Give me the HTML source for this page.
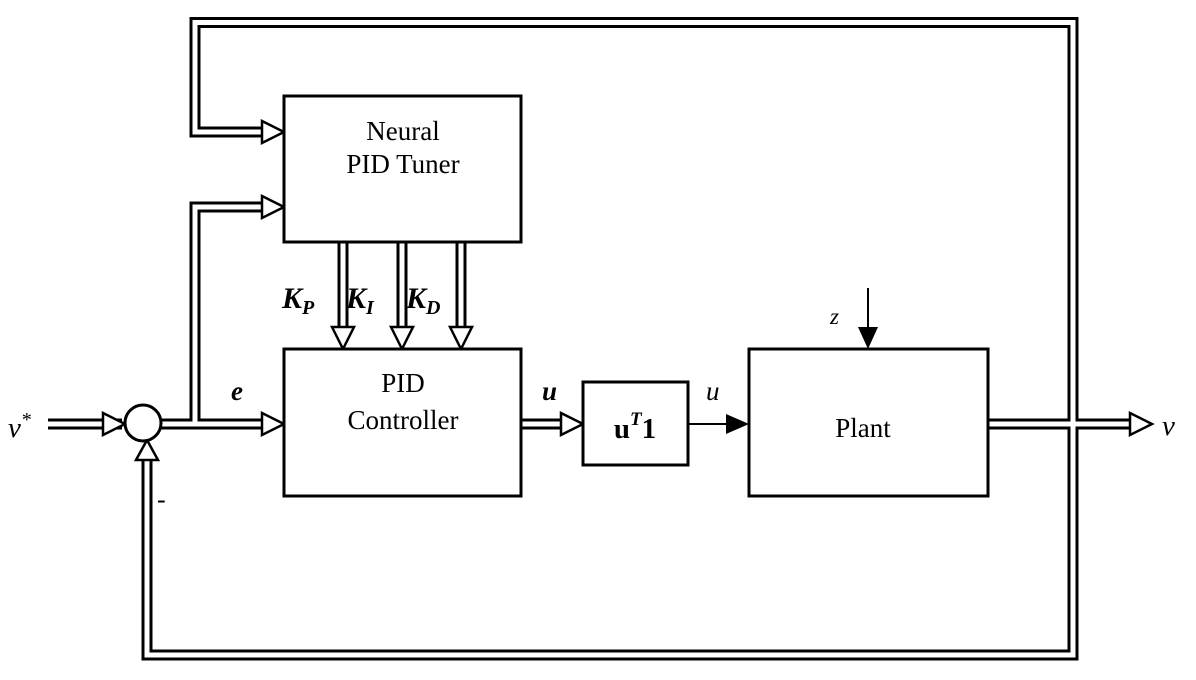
<!DOCTYPE html>
<html><head><style>
html,body{margin:0;padding:0;background:#fff;}
svg{display:block;}
text{font-family:"Liberation Serif",serif;fill:#000;}
</style></head><body>
<svg width="1196" height="680" viewBox="0 0 1196 680" xmlns="http://www.w3.org/2000/svg">
<g fill="none" stroke-linejoin="miter" stroke-linecap="butt">
<g stroke="#000" stroke-width="11">
<path d="M263,132 H195 V22.5 H1073 V655 H147 V458"/>
<path d="M263,207 H195 V424"/>
<path d="M48,424 H122"/>
<path d="M161,424 H263"/>
<path d="M343,242 V326 M402,242 V326 M461,242 V326"/>
<path d="M521,424 H562"/>
<path d="M988,424 H1130"/>
</g>
<g stroke="#fff" stroke-width="5">
<path d="M264,132 H195 V22.5 H1073 V655 H147 V457"/>
<path d="M264,207 H195 V424"/>
<path d="M47,424 H123"/>
<path d="M160,424 H264"/>
<path d="M343,241 V327 M402,241 V327 M461,241 V327"/>
<path d="M520,424 H563"/>
<path d="M987,424 H1131"/>
</g>
</g>
<g fill="#fff" stroke="#000" stroke-width="2.5" stroke-linejoin="miter">
<polygon points="262,121 284,132 262,143"/>
<polygon points="262,196 284,207 262,218"/>
<polygon points="262,413 284,424 262,435"/>
<polygon points="103,413 125,424 103,435"/>
<polygon points="561,413 583,424 561,435"/>
<polygon points="1130,413 1152,424 1130,435"/>
<polygon points="332,327 343,349 354,327"/>
<polygon points="391,327 402,349 413,327"/>
<polygon points="450,327 461,349 472,327"/>
<polygon points="136,460 147,440 158,460"/>
</g>
<circle cx="143" cy="423" r="18" fill="#fff" stroke="#000" stroke-width="3"/>
<g fill="#fff" stroke="#000" stroke-width="3">
<rect x="284" y="96" width="237" height="146"/>
<rect x="284" y="349" width="237" height="147"/>
<rect x="583" y="382" width="105" height="83"/>
<rect x="749" y="349" width="239" height="147"/>
</g>
<line x1="688" y1="424" x2="730" y2="424" stroke="#000" stroke-width="2"/>
<polygon points="726,414 749,424 726,434" fill="#000"/>
<line x1="868" y1="288" x2="868" y2="330" stroke="#000" stroke-width="2"/>
<polygon points="858,327 868,349 878,327" fill="#000"/>
<g font-size="27" text-anchor="middle">
<text x="403" y="140">Neural</text>
<text x="403" y="173">PID Tuner</text>
<text x="403" y="392">PID</text>
<text x="403" y="429">Controller</text>
<text x="863" y="437">Plant</text>
</g>
<text x="635" y="438" font-size="29" font-weight="bold" text-anchor="middle">u<tspan font-size="19" font-style="italic" dy="-13">T</tspan><tspan dy="13">1</tspan></text>
<g font-style="italic" font-size="27">
<text x="231" y="400" font-weight="bold">e</text>
<text x="542" y="400" font-weight="bold">u</text>
<text x="706" y="400">u</text>
<text x="830" y="324" font-size="23">z</text>
<text x="8" y="437" font-size="29">v<tspan font-size="20" dy="-11">*</tspan></text>
<text x="1162" y="435" font-size="29">v</text>
<text x="282" y="308" font-weight="bold" font-size="30">K<tspan font-size="20" dy="6">P</tspan></text>
<text x="346" y="308" font-weight="bold" font-size="30">K<tspan font-size="20" dy="6">I</tspan></text>
<text x="406" y="308" font-weight="bold" font-size="30">K<tspan font-size="20" dy="6">D</tspan></text>
</g>
<text x="157" y="508" font-size="26">-</text>
</svg>
</body></html>
